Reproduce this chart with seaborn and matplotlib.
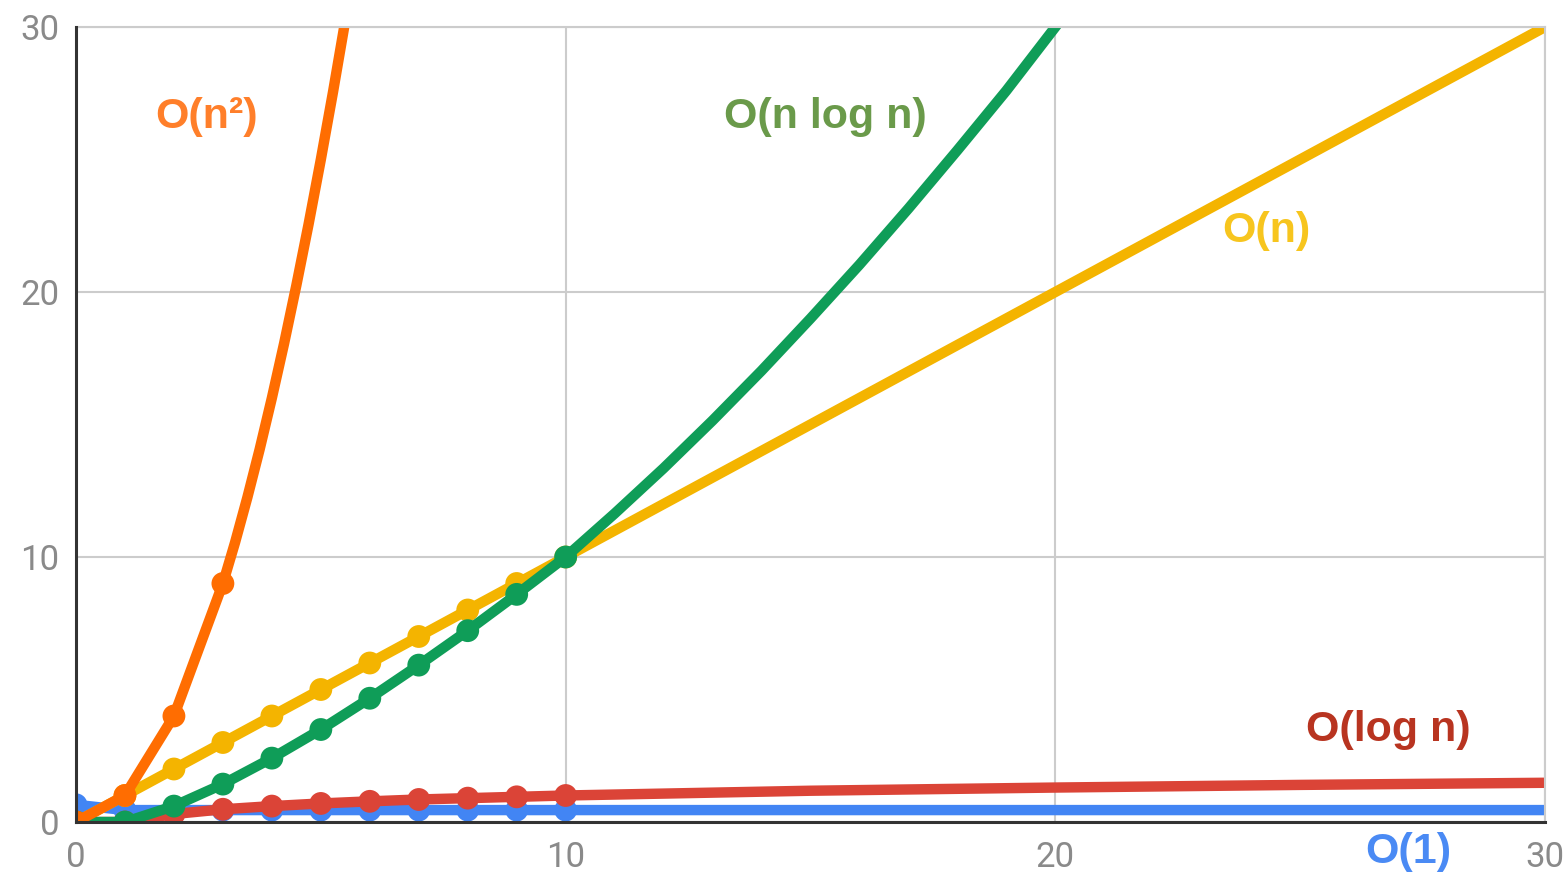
import numpy as np
import pandas as pd
import matplotlib
matplotlib.use("Agg")
import matplotlib.pyplot as plt
import seaborn as sns

# values
n_marks = [0, 1, 2, 3, 4, 5, 6, 7, 8, 9, 10]
o1_marks = [0.65, 0.45, 0.45, 0.45, 0.45, 0.45, 0.45, 0.45, 0.45, 0.45, 0.45]
ologn_marks = [0, 0, 0.3, 0.48, 0.6, 0.7, 0.78, 0.85, 0.9, 0.95, 1.0]
on_marks = [0, 1, 2, 3, 4, 5, 6, 7, 8, 9, 10]
onlogn_marks = [0, 0, 0.6, 1.43, 2.41, 3.49, 4.67, 5.92, 7.22, 8.59, 10]
on2_n_marks = [0, 1, 2, 3]
on2_marks = [0, 1, 4, 9]

# where the curves continue past the markers
o1_tail_n = [20, 30]
o1_tail = [0.45, 0.45]
ologn_tail_n = [15, 20, 25, 30]
ologn_tail = [1.18, 1.3, 1.4, 1.48]
on_tail_n = [20, 30]
on_tail = [20, 30]
onlogn_tail_n = [11, 12, 13, 14, 15, 16, 17, 18, 19, 20, 21]
onlogn_tail = [11.64, 13.35, 15.15, 17.03, 19.0, 21.03, 23.15, 25.35, 27.6, 30.0, 32.4]
on2_tail_n = [3.25, 3.5, 3.75, 4, 4.25, 4.5, 4.75, 5, 5.25, 5.5, 5.75]
on2_tail = [10.56, 12.25, 14.06, 16, 18.06, 20.25, 22.56, 25, 27.56, 30.25, 33.06]

series = [
    ("O(1)", n_marks, o1_marks, o1_tail_n, o1_tail, "#4285f4"),
    ("O(log n)", n_marks, ologn_marks, ologn_tail_n, ologn_tail, "#db4437"),
    ("O(n)", n_marks, on_marks, on_tail_n, on_tail, "#f4b400"),
    ("O(n log n)", n_marks, onlogn_marks, onlogn_tail_n, onlogn_tail, "#0f9d58"),
    ("O(n²)", on2_n_marks, on2_marks, on2_tail_n, on2_tail, "#ff6d01"),
]

labels = [
    ("O(n²)", 2.67, 26.6, "#ff7f2a"),
    ("O(n log n)", 15.3, 26.6, "#6a9a4a"),
    ("O(n)", 24.3, 22.3, "#f7c51e"),
    ("O(log n)", 26.8, 3.47, "#b83420"),
    ("O(1)", 27.2, -1.13, "#4a8af4"),
]

sns.set_style("white")
plt.rcParams['font.family'] = ['Roboto', 'DejaVu Sans']

fig = plt.figure(figsize=(15.65, 8.75), dpi=100)
ax = fig.add_axes([76 / 1565, 1 - 822 / 875, (1545 - 76) / 1565, (822 - 27) / 875])

for name, xm, ym, xt, yt, col in series:
    line = pd.DataFrame({"n": list(xm) + list(xt), "t": list(ym) + list(yt)})
    marks = pd.DataFrame({"n": xm, "t": ym})
    sns.lineplot(data=line, x="n", y="t", ax=ax, color=col, linewidth=7.5,
                 sort=False, estimator=None, solid_capstyle="butt",
                 solid_joinstyle="round")
    sns.scatterplot(data=marks, x="n", y="t", ax=ax, color=col, s=270,
                    edgecolor="none", zorder=ax.lines[-1].get_zorder())

for txt, x, y, col in labels:
    ax.text(x, y, txt, color=col, fontsize=31, fontweight="bold",
            family=["Liberation Sans", "DejaVu Sans"],
            ha="center", va="center", clip_on=False)

ax.set_xlim(0, 30)
ax.set_ylim(0, 30)
ax.set_xticks([0, 10, 20, 30])
ax.set_yticks([0, 10, 20, 30])
ax.set_xlabel("")
ax.set_ylabel("")
ax.grid(True, color="#cccccc", linewidth=1.5)
ax.set_axisbelow(True)
ax.tick_params(axis="both", length=0, labelsize=25, labelcolor="#8a8a8a")
ax.tick_params(axis="x", pad=14)
ax.tick_params(axis="y", pad=12)
for side in ["top", "right"]:
    ax.spines[side].set_color("#cccccc")
    ax.spines[side].set_linewidth(1.5)
for side in ["left", "bottom"]:
    ax.spines[side].set_color("#333333")
    ax.spines[side].set_linewidth(2.2)
    ax.spines[side].set_zorder(5)

fig.savefig("out.png", dpi=100)
